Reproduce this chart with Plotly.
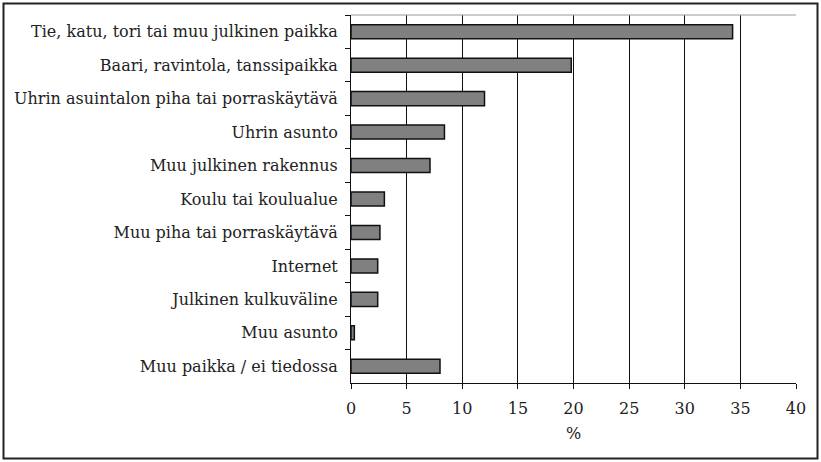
import plotly.graph_objects as go

categories = [
    "Tie, katu, tori tai muu julkinen paikka",
    "Baari, ravintola, tanssipaikka",
    "Uhrin asuintalon piha tai porraskäytävä",
    "Uhrin asunto",
    "Muu julkinen rakennus",
    "Koulu tai koulualue",
    "Muu piha tai porraskäytävä",
    "Internet",
    "Julkinen kulkuväline",
    "Muu asunto",
    "Muu paikka / ei tiedossa",
]
values = [34.3, 19.8, 12.0, 8.4, 7.1, 3.0, 2.6, 2.4, 2.4, 0.3, 8.0]
x_ticks = [0, 5, 10, 15, 20, 25, 30, 35, 40]

FONT = "DejaVu Serif"
FS = 16

fig = go.Figure(
    go.Bar(
        y=categories,
        x=values,
        orientation="h",
        marker=dict(color="#808080", line=dict(color="#111111", width=1.5)),
        hoverinfo="x+y",
    )
)

L, R, T, B = 351, 25, 15, 79
W, H = 821, 462
pw, ph = W - L - R, H - T - B

def px(x):
    return (x - L) / pw

def py(y):
    return (H - B - y) / ph

fig.update_layout(
    width=W,
    height=H,
    margin=dict(l=L, r=R, t=T, b=B, autoexpand=False),
    paper_bgcolor="white",
    plot_bgcolor="white",
    bargap=0.58,
    showlegend=False,
    font=dict(family=FONT, size=FS, color="#222222"),
    xaxis=dict(
        range=[0, 40],
        tickvals=x_ticks,
        ticks="outside",
        ticklen=5,
        tickcolor="#111111",
        showgrid=True,
        gridcolor="#111111",
        gridwidth=1,
        showline=True,
        linecolor="#111111",
        linewidth=1,
        zeroline=False,
        tickfont=dict(family=FONT, size=FS),
        ticklabelstandoff=6,
        title=dict(text="%", font=dict(family=FONT, size=FS), standoff=10),
        fixedrange=True,
    ),
    yaxis=dict(
        autorange="reversed",
        ticks="outside",
        tickson="boundaries",
        ticklen=5,
        tickcolor="#111111",
        showline=True,
        linecolor="#111111",
        linewidth=1,
        showgrid=False,
        tickfont=dict(family=FONT, size=FS),
        ticklabelstandoff=9,
        fixedrange=True,
    ),
    shapes=[
        dict(type="line", xref="paper", yref="paper", x0=0, x1=1, y0=1, y1=1,
             line=dict(color="#999999", width=1)),
        dict(type="rect", xref="paper", yref="paper",
             x0=px(3.5), x1=px(817.5), y0=py(458.5), y1=py(3.5),
             line=dict(color="#222222", width=2)),
    ],
)

fig.write_html(
    "out.html",
    config={"displayModeBar": False},
    post_script="document.body.style.margin='0';",
)
